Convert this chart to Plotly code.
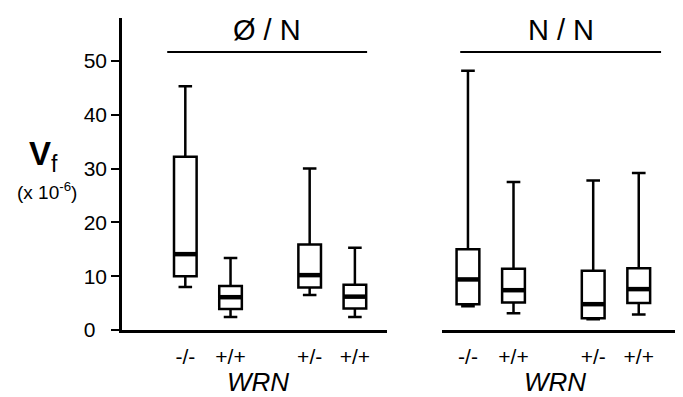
import plotly.graph_objects as go

# ---- data ----
positions = [1, 2, 3.75, 4.75]
tick_labels = ["-/-", "+/+", "+/-", "+/+"]
group_titles = ["\u00d8 / N", "N / N"]
y_tickvals = [0, 10, 20, 30, 40, 50]
y_ticktext = ["0\u00a0\u00a0", "10", "20", "30", "40", "50"]

# Ø/N panel
on_low = [8.0, 2.4, 6.5, 2.4]
on_q1 = [10.0, 3.9, 7.9, 4.0]
on_med = [14.1, 6.1, 10.2, 6.2]
on_q3 = [32.2, 8.2, 15.9, 8.4]
on_high = [45.3, 13.4, 30.0, 15.3]

# N/N panel
nn_low = [4.4, 3.1, 2.0, 2.9]
nn_q1 = [4.8, 5.1, 2.2, 5.0]
nn_med = [9.4, 7.4, 4.8, 7.6]
nn_q3 = [15.0, 11.4, 11.0, 11.5]
nn_high = [48.2, 27.5, 27.8, 29.2]

BOX_W = 0.5
FONT = "Liberation Sans, Arial, sans-serif"

fig = go.Figure()


def add_panel(xref, yref, low, q1, med, q3, high):
    fig.add_trace(go.Box(
        x=positions, lowerfence=low, q1=q1, median=med, q3=q3, upperfence=high,
        width=BOX_W, whiskerwidth=0.6,
        line=dict(color="black", width=2.5), fillcolor="white",
        boxpoints=False, hoverinfo="skip", showlegend=False,
        xaxis=xref, yaxis=yref,
    ))
    mx, my = [], []
    for p, m in zip(positions, med):
        mx += [p - BOX_W / 2, p + BOX_W / 2, None]
        my += [m, m, None]
    fig.add_trace(go.Scatter(
        x=mx, y=my, mode="lines", line=dict(color="black", width=4.5),
        hoverinfo="skip", showlegend=False, xaxis=xref, yaxis=yref,
    ))


add_panel("x", "y", on_low, on_q1, on_med, on_q3, on_high)
add_panel("x2", "y2", nn_low, nn_q1, nn_med, nn_q3, nn_high)

W, H = 683, 397
OFF = 8  # page body margin offset
y_bottom_px, y_top_px = 330 - OFF, 18 - OFF
x1_px = (122 - OFF, 387 - OFF)
x2_px = (442 - OFF, 677 - OFF)
YMAX = 58.0

xcommon = dict(
    tickmode="array", tickvals=positions, ticktext=tick_labels,
    ticks="", showgrid=False, zeroline=False, showline=True,
    linecolor="black", linewidth=2.5, automargin=False, ticklabelstandoff=6,
    tickfont=dict(family=FONT, size=21, color="black"),
)

fig.update_layout(
    width=W, height=H,
    margin=dict(l=0, r=0, t=0, b=0, autoexpand=False),
    paper_bgcolor="white", plot_bgcolor="white",
    xaxis=dict(domain=[x1_px[0] / W, x1_px[1] / W], range=[-0.4, 5.46], anchor="y", **xcommon),
    xaxis2=dict(domain=[x2_px[0] / W, x2_px[1] / W], range=[0.43, 5.59], anchor="y2", **xcommon),
    yaxis=dict(domain=[1 - y_bottom_px / H, 1 - y_top_px / H], range=[0, YMAX],
               tickmode="array", tickvals=y_tickvals, ticktext=y_ticktext,
               ticks="outside", ticklen=8, tickwidth=2,
               tickcolor="black", showline=True, linecolor="black", linewidth=2.5,
               showgrid=False, zeroline=False, anchor="x", automargin=False,
               tickfont=dict(family=FONT, size=21, color="black")),
    yaxis2=dict(domain=[1 - y_bottom_px / H, 1 - y_top_px / H], range=[0, YMAX],
                visible=False, anchor="x2", showgrid=False, zeroline=False, automargin=False),
)

# group header lines and titles
for xr, yr, (xa, xb), title in [("x", "y", (0.6, 5.02), group_titles[0]),
                                 ("x2", "y2", (0.83, 5.24), group_titles[1])]:
    fig.add_shape(type="line", xref=xr, yref=yr, x0=xa, x1=xb, y0=51.7, y1=51.7,
                  line=dict(color="black", width=2))
    fig.add_annotation(xref=xr, yref=yr, x=(xa + xb) / 2, y=51.7, yanchor="bottom", yshift=4,
                       text=title, showarrow=False,
                       font=dict(family=FONT, size=29, color="black"))

# x-axis titles (italic WRN) under each panel
for xc in (258 - OFF, 555 - OFF):
    fig.add_annotation(xref="paper", yref="paper", x=xc / W, y=1 - (382 - OFF) / H,
                       text="<i>WRN</i>", xanchor="center", yanchor="middle",
                       showarrow=False, font=dict(family=FONT, size=26, color="black"))

# y-axis label
fig.add_annotation(xref="paper", yref="paper", x=(43 - OFF) / W, y=1 - (156 - OFF) / H,
                   text="<b>V</b><sub>f</sub>", xanchor="center", yanchor="middle",
                   showarrow=False, font=dict(family=FONT, size=33, color="black"))
fig.add_annotation(xref="paper", yref="paper", x=(46.5 - OFF) / W, y=1 - (191 - OFF) / H,
                   text="(x 10<sup>-6</sup>)", xanchor="center", yanchor="middle",
                   showarrow=False, font=dict(family=FONT, size=19, color="black"))

fig.write_html("out.html")
